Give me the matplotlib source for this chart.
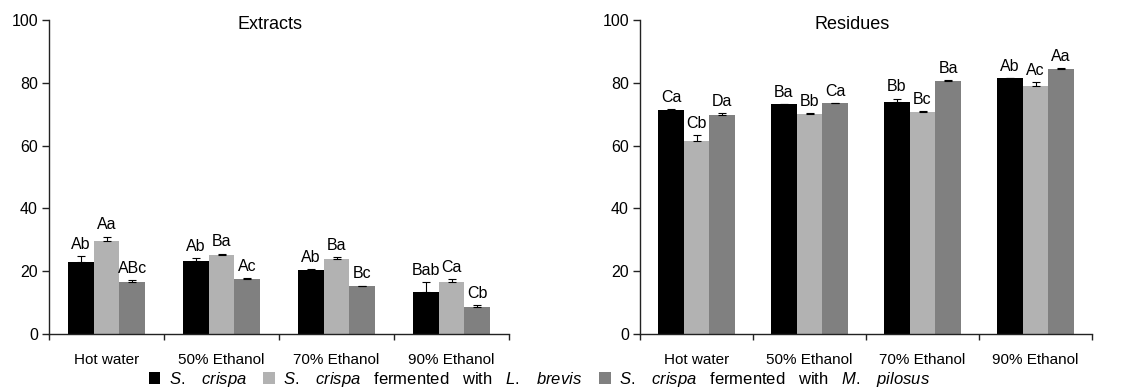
import matplotlib

matplotlib.use("Agg")
import matplotlib.pyplot as plt
import numpy as np
from matplotlib.patches import Patch

# ---- data -----------------------------------------------------------------
categories = ["Hot water", "50% Ethanol", "70% Ethanol", "90% Ethanol"]

extract_crispa = [22.9, 23.1, 20.5, 13.5]
extract_crispa_err = [1.9, 1.0, 0.3, 3.0]
extract_brevis = [29.7, 25.3, 24.0, 16.7]
extract_brevis_err = [1.3, 0.3, 0.6, 0.8]
extract_pilosus = [16.5, 17.4, 15.2, 8.5]
extract_pilosus_err = [0.6, 0.5, 0.2, 0.6]

residue_crispa = [71.3, 73.1, 73.9, 81.4]
residue_crispa_err = [0.2, 0.2, 1.1, 0.1]
residue_brevis = [61.6, 70.1, 70.7, 78.9]
residue_brevis_err = [1.7, 0.2, 0.3, 1.2]
residue_pilosus = [69.7, 73.5, 80.6, 84.4]
residue_pilosus_err = [0.6, 0.1, 0.3, 0.2]

extract_letters = [["Ab", "Ab", "Ab", "Bab"],
                   ["Aa", "Ba", "Ba", "Ca"],
                   ["ABc", "Ac", "Bc", "Cb"]]
residue_letters = [["Ca", "Ba", "Bb", "Ab"],
                   ["Cb", "Bb", "Bc", "Ac"],
                   ["Da", "Ca", "Ba", "Aa"]]

# justified caption style: wide gaps between words
SP = r"\ \ \ "
series_labels = [
    rf"$\it{{S.{SP}crispa}}$",
    rf"$\it{{S.{SP}crispa}}$   fermented   with   $\it{{L.{SP}brevis}}$",
    rf"$\it{{S.{SP}crispa}}$   fermented   with   $\it{{M.{SP}pilosus}}$",
]
colors = ["#000000", "#b2b2b2", "#808080"]

# ---- style ----------------------------------------------------------------
plt.rcParams.update({
    "font.family": "Liberation Sans",
    "mathtext.fontset": "custom",
    "mathtext.rm": "Liberation Sans",
    "mathtext.it": "Liberation Sans:italic",
    "axes.linewidth": 1.0,
    "axes.edgecolor": "#222222",
})

W, H = 1131, 388
fig = plt.figure(figsize=(W / 100, H / 100), dpi=100)

BAR_W = 0.226


def draw_panel(ax, series, errs, letters, title, title_x):
    x = np.arange(len(categories))
    for k, (vals, err) in enumerate(zip(series, errs)):
        pos = x + (k - 1) * BAR_W
        ax.bar(pos, vals, width=BAR_W, color=colors[k], edgecolor="none",
               zorder=2)
        ax.errorbar(pos, vals, yerr=[np.zeros(len(err)), err], fmt="none",
                    ecolor="black", elinewidth=0.8, capsize=3, capthick=0.8,
                    zorder=3)
        for p, v, e, lab in zip(pos, vals, err, letters[k]):
            ax.annotate(lab, (p, v + e), xytext=(0, 3),
                        textcoords="offset points", ha="center", va="bottom",
                        fontsize=11.5)

    ax.set_xlim(-0.5, len(categories) - 0.5)
    ax.set_ylim(0, 100)
    ax.set_yticks([0, 20, 40, 60, 80, 100])
    ax.tick_params(axis="y", labelsize=11.5, length=5, width=1, pad=3,
                   color="#222222")

    # boundary ticks between groups, labels at group centres
    ax.set_xticks(np.arange(len(categories) + 1) - 0.5)
    ax.set_xticklabels([])
    ax.tick_params(axis="x", which="major", length=4, width=1,
                   color="#222222")
    ax.set_xticks(x, minor=True)
    ax.set_xticklabels(categories, minor=True, fontsize=11)
    ax.tick_params(axis="x", which="minor", length=0, pad=14)

    for s in ("top", "right"):
        ax.spines[s].set_visible(False)

    ax.text(title_x, 0.985, title, transform=ax.transAxes, ha="center",
            va="center", fontsize=13)


ax_l = fig.add_axes([49 / W, 54 / H, 460 / W, 314 / H])
draw_panel(ax_l,
           [extract_crispa, extract_brevis, extract_pilosus],
           [extract_crispa_err, extract_brevis_err, extract_pilosus_err],
           extract_letters, "Extracts", 0.48)

ax_r = fig.add_axes([640 / W, 54 / H, 452 / W, 314 / H])
draw_panel(ax_r,
           [residue_crispa, residue_brevis, residue_pilosus],
           [residue_crispa_err, residue_brevis_err, residue_pilosus_err],
           residue_letters, "Residues", 0.47)

handles = [Patch(facecolor=c, edgecolor="none") for c in colors]
fig.legend(handles, series_labels, loc="center", ncol=3,
           bbox_to_anchor=(0.477, 0.023), frameon=False, fontsize=12,
           handlelength=0.7, handleheight=0.7, handletextpad=0.5,
           columnspacing=1.0, borderpad=0)

fig.savefig("out.png", dpi=100)
